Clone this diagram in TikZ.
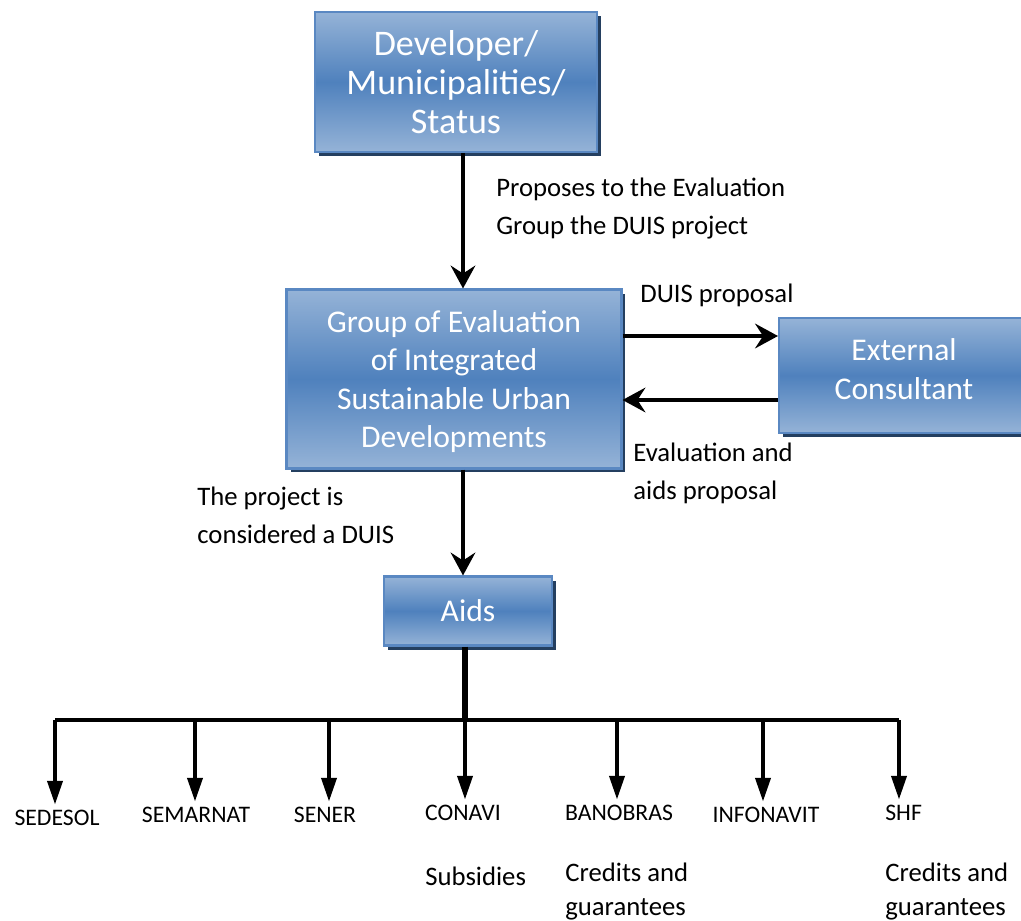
\documentclass[tikz,border=0pt]{standalone}
\usepackage{fontspec}
\setmainfont{Carlito}
\usetikzlibrary{arrows.meta, shadows}

\definecolor{boxmid}{HTML}{4F81BD}
\definecolor{boxlight}{HTML}{95B3D7}
\definecolor{boxedge}{HTML}{5A88C2}
\definecolor{boxshade}{HTML}{243F60}

\tikzset{
    blockbox/.style={rectangle, draw=boxedge, line width=1.2pt,
        top color=boxlight, bottom color=boxlight, middle color=boxmid,
        drop shadow={shadow xshift=0.08cm, shadow yshift=-0.08cm, fill=boxshade, opacity=1},
        text=white, align=center, inner sep=0pt,
        font=\fontsize{18}{22}\selectfont},
    note/.style={align=left, anchor=north west, inner sep=0pt,
        font=\fontsize{15.2}{21.3}\selectfont},
    agency/.style={inner sep=0pt, font=\fontsize{13.5}{16}\selectfont},
    flow/.style={line width=2.8pt, -{Stealth[length=13pt, width=14pt, inset=4.5pt]}},
    drop/.style={line width=2.2pt, -{Triangle[length=13.5pt, width=8.5pt]}}
}

\begin{document}
\begin{tikzpicture}[x=0.02cm, y=-0.02cm]
            \useasboundingbox (0,0) rectangle (1021,920);
            % Boxes
            \node[blockbox, font=\fontsize{20.5}{22}\selectfont, minimum width=5.64cm, minimum height=2.8cm] (dev) at (456, 82) {Developer/\\Municipalities/\\Status};
            \node[blockbox, minimum width=6.7cm, minimum height=3.58cm, text depth=0pt] (group) at (454, 379) {Group of Evaluation\\of Integrated\\Sustainable Urban\\Developments};
            \node[blockbox, minimum width=5.0cm, minimum height=2.3cm, text depth=0.26cm, anchor=north west] (ext) at (778, 317) {External\\Consultant};
            \node[blockbox, minimum width=3.36cm, minimum height=1.38cm] (aids) at (468, 611) {Aids};
            % Notes
            \node[note] (propose) at (496, 178) {Proposes to the Evaluation\\Group the DUIS project};
            \node[note] (duis) at (640, 284) {DUIS proposal};
            \node[note] (evalnote) at (633, 443) {Evaluation and\\aids proposal};
            \node[note] (consid) at (197, 487) {The project is\\considered a DUIS};
            % Arrows between boxes
            \draw[flow] (dev.south -| 463,0) -- (group.north -| 463,0);
            \draw[flow] (group.east |- 0,336) -- (ext.west |- 0,336);
            \draw[flow] (ext.west |- 0,400) -- (group.east |- 0,400);
            \draw[flow] (group.south -| 463,0) -- (aids.north -| 463,0);
            % Distribution bar
            \coordinate (hub) at (465, 720);
            \coordinate (barL) at (55, 720);
            \coordinate (barR) at (899, 720);
            \draw[line width=3pt] (aids.south -| hub) -- (hub);
            \draw[line width=2.2pt] (barL) -- (barR);
            % Agencies
            \node[agency] (sedesol) at (57, 818) {SEDESOL};
            \node[agency] (semarnat) at (196, 815) {SEMARNAT};
            \node[agency] (sener) at (325, 815) {SENER};
            \node[agency] (conavi) at (463, 813) {CONAVI};
            \node[agency] (banobras) at (619, 813) {BANOBRAS};
            \node[agency] (infonavit) at (766, 815) {INFONAVIT};
            \node[agency, anchor=west] (shf) at (885, 813) {SHF};
            \foreach \xx/\dest in {55/sedesol, 195/semarnat, 329/sener, 465/conavi, 617/banobras, 763/infonavit, 899/shf}
                \draw[drop, shorten >=3pt] (barL -| \xx,0) -- (\dest.north -| \xx,0);
            % Aid types
            \node[note] (subs) at (425, 867) {Subsidies};
            \node[note, font=\fontsize{15.2}{19}\selectfont] (credA) at (565, 863) {Credits and\\guarantees};
            \node[note, font=\fontsize{15.2}{19}\selectfont] (credB) at (885, 863) {Credits and\\guarantees};
        \end{tikzpicture}
\end{document}
